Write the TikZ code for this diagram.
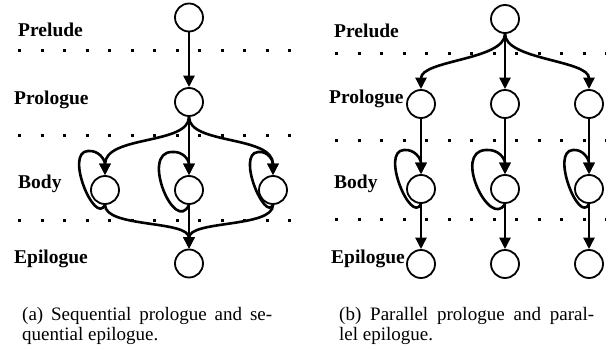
\documentclass[tikz,border=0pt]{standalone}
\usepackage{fontspec}
\setmainfont{Liberation Serif}
\usetikzlibrary{arrows.meta}
\begin{document}
\begin{tikzpicture}[x=1pt,y=-1pt,
  state/.style={circle, draw, line width=1.8pt, minimum size=28pt, inner sep=0pt, fill=white},
  conn/.style={line width=2.6pt, -{Triangle[length=11.5pt,width=11pt]}},
  phase/.style={anchor=base west, inner sep=0pt, font=\bfseries\fontsize{19.5}{22}\selectfont},
  sepline/.style={line width=3pt, dash pattern=on 3pt off 19.5pt},
  capt/.style={anchor=base west, inner sep=0pt, font=\fontsize{19}{22}\selectfont}]
\useasboundingbox (0,0) rectangle (612,350);

% dotted phase separators
\foreach \y in {51,135,220} \draw[sepline] (18,\y) -- (292,\y);
\foreach \y in {54,140,219} \draw[sepline] (335,\y) -- (606,\y);

% ---- (a) sequential prologue / sequential epilogue ----
\node[phase] (la0) at (18,37) {Prelude};
\node[phase] (la1) at (14,104) {Prologue};
\node[phase] (la2) at (18,188) {Body};
\node[phase] (la3) at (14,263) {Epilogue};

\node[state] (a0) at (189,17.5) {};
\node[state] (a1) at (189,102) {};
\node[state] (a2) at (105,190) {};
\node[state] (a3) at (189,190) {};
\node[state] (a4) at (273,190) {};
\node[state] (a5) at (189,263.5) {};

\draw[conn] (a0) -- (a1);
\draw[conn] (a1) -- (a3);
\draw[conn] (a1.south) .. controls (189,145) and (105,135) .. (a2.north);
\draw[conn] (a1.south) .. controls (189,145) and (273,135) .. (a4.north);

% self loops of the body nodes
\draw[conn] (a2.south) .. controls (95,226) and (64,152) .. (88,151)
  .. controls (99,150) and (105,160) .. (a2.north);
\draw[conn] (a3.south) .. controls (175,235) and (140,152) .. (172,152)
  .. controls (183,151) and (189,160) .. (a3.north);
\draw[conn] (a4.south) .. controls (265,222) and (236,154) .. (258,152)
  .. controls (268,151) and (273,160) .. (a4.north);

\draw[conn] (a2.south) .. controls (105,228) and (189,220) .. (a5.north);
\draw[conn] (a3) -- (a5);
\draw[conn] (a4.south) .. controls (273,228) and (189,220) .. (a5.north);

% ---- (b) parallel prologue / parallel epilogue ----
\node[phase] (lb0) at (334,38) {Prelude};
\node[phase] (lb1) at (329,103) {Prologue};
\node[phase] (lb2) at (334,188) {Body};
\node[phase] (lb3) at (331,263) {Epilogue};

\node[state] (b0) at (505,19) {};
\node[state] (b1) at (421,104) {};
\node[state] (b2) at (505,104) {};
\node[state] (b3) at (589,104) {};
\node[state] (c1) at (421,189) {};
\node[state] (c2) at (505,189) {};
\node[state] (c3) at (589,189) {};
\node[state] (d1) at (421,264) {};
\node[state] (d2) at (505,264) {};
\node[state] (d3) at (589,264) {};

\draw[conn] (b0) -- (b2);
\draw[conn] (b0.south) .. controls (505,60) and (421,60) .. (b1.north);
\draw[conn] (b0.south) .. controls (505,60) and (589,60) .. (b3.north);

\draw[conn] (b1) -- (c1);
\draw[conn] (b2) -- (c2);
\draw[conn] (b3) -- (c3);

\draw[conn] (c1.south) .. controls (411,225) and (380,151) .. (404,150)
  .. controls (415,149) and (421,159) .. (c1.north);
\draw[conn] (c2.south) .. controls (490,230) and (452,151) .. (486,150)
  .. controls (499,149) and (505,159) .. (c2.north);
\draw[conn] (c3.south) .. controls (579,225) and (550,151) .. (573,150)
  .. controls (583,149) and (589,159) .. (c3.north);

\draw[conn] (c1) -- (d1);
\draw[conn] (c2) -- (d2);
\draw[conn] (c3) -- (d3);

% ---- captions ----
\node[capt] (capa1) at (22,320) {\makebox[250pt][s]{(a) Sequential prologue and se-}};
\node[capt] (capa2) at (22,340) {quential epilogue.};
\node[capt] (capb1) at (339,320) {\makebox[255pt][s]{(b) Parallel prologue and paral-}};
\node[capt] (capb2) at (339,340) {lel epilogue.};
\end{tikzpicture}
\end{document}
